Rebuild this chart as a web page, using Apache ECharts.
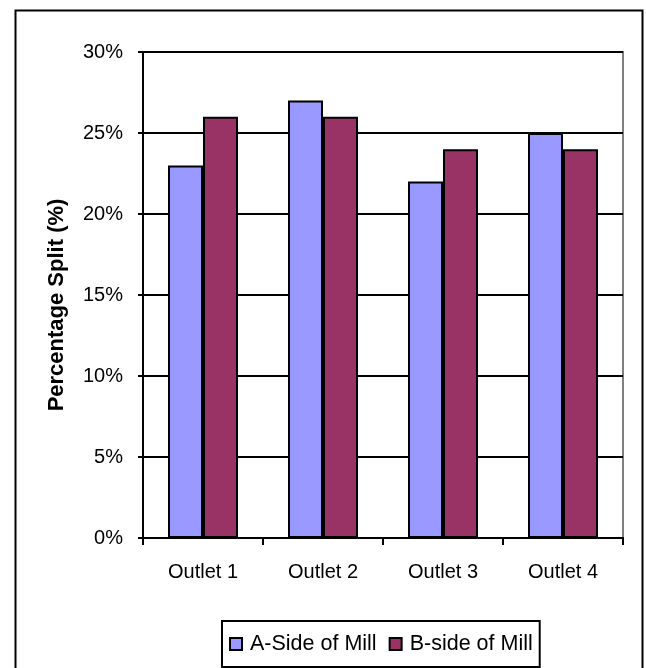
<!DOCTYPE html>
<html>
<head>
<meta charset="utf-8">
<script src="https://cdn.jsdelivr.net/npm/echarts@6/dist/echarts.min.js"></script>
<style>
html,body{margin:0;padding:0;background:#fff;}
#chart{width:646px;height:668px;}
</style>
</head>
<body>
<div id="chart"></div>
<script>
var categories = ['Outlet 1', 'Outlet 2', 'Outlet 3', 'Outlet 4'];
var seriesNames = ['A-Side of Mill', 'B-side of Mill'];
var aSide = [23, 27, 22, 25];
var bSide = [26, 26, 24, 24];
var yTitle = 'Percentage Split (%)';

var FONT = '"Liberation Sans", Arial, sans-serif';
var chart = echarts.init(document.getElementById('chart'), null, {renderer: 'canvas'});
chart.setOption({
  animation: false,
  backgroundColor: '#fff',
  graphic: [
    {type: 'rect', left: 13, top: 8, shape: {x: 0, y: 0, width: 627, height: 700},
     style: {fill: 'none', stroke: '#000', lineWidth: 2}, z: 0, silent: true},
    {type: 'text', x: 57, y: 305, rotation: Math.PI / 2,
     style: {text: yTitle, font: 'bold 22px ' + FONT, fill: '#000', textAlign: 'center', textVerticalAlign: 'middle'}}
  ],
  grid: {left: 143, right: 23, top: 52, bottom: 130, show: true, borderColor: '#808080', borderWidth: 2, backgroundColor: 'transparent'},
  legend: {
    left: 222, top: 621, width: 320, height: 46,
    padding: [12, 7, 12, 7],
    itemWidth: 12, itemHeight: 12, itemGap: 12,
    borderColor: '#000', borderWidth: 2,
    icon: 'rect',
    textStyle: {fontFamily: FONT, fontSize: 21.5, color: '#000', padding: [0, 0, 0, 3]},
    data: seriesNames
  },
  xAxis: {
    type: 'category', data: categories,
    axisLine: {lineStyle: {color: '#000', width: 2}},
    axisTick: {show: true, length: 7, lineStyle: {color: '#000', width: 2}},
    axisLabel: {fontFamily: FONT, fontSize: 20, color: '#000', margin: 24}
  },
  yAxis: {
    type: 'value', min: 0, max: 30, interval: 5,
    axisLine: {show: true, lineStyle: {color: '#000', width: 2}},
    axisTick: {show: true, length: 5, lineStyle: {color: '#000', width: 2}},
    axisLabel: {fontFamily: FONT, fontSize: 20, color: '#000', margin: 20, formatter: '{value}%'},
    splitLine: {show: true, lineStyle: {color: '#000', width: 2}}
  },
  series: [
    {name: seriesNames[0], type: 'bar', data: aSide, barWidth: 35, barGap: '0%',
     itemStyle: {color: '#9999FF', borderColor: '#000', borderWidth: 2}},
    {name: seriesNames[1], type: 'bar', data: bSide, barWidth: 35, barGap: '0%',
     itemStyle: {color: '#993366', borderColor: '#000', borderWidth: 2}}
  ]
});
</script>
</body>
</html>
